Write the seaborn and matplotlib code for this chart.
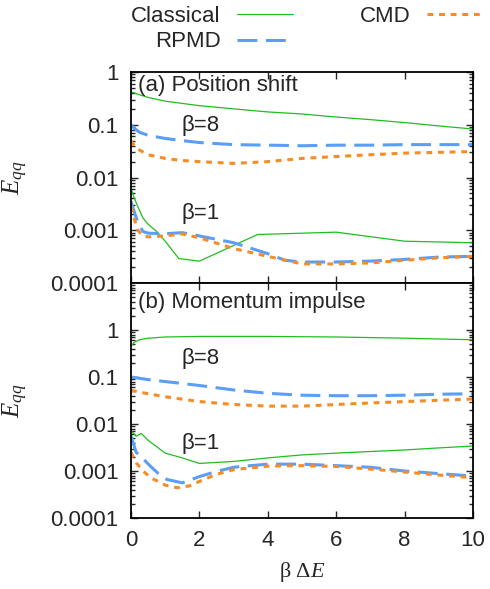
import numpy as np
import pandas as pd
import seaborn as sns
import matplotlib
matplotlib.use("Agg")
import matplotlib.pyplot as plt
from matplotlib.lines import Line2D
from matplotlib.ticker import LogLocator, NullFormatter

# ---- data ----
# (a) position shift, beta = 8
a8_cl_x = [0, 0.25, 0.5, 1, 2, 3, 4, 5, 6, 7, 8, 9, 10]
a8_cl_y = [0.42, 0.37, 0.33, 0.28, 0.23, 0.20, 0.175, 0.16, 0.14, 0.125, 0.11, 0.095, 0.083]
a8_rp_x = [0, 0.1, 0.25, 0.5, 1, 1.5, 2, 3, 4, 5, 6, 7, 8, 9, 10]
a8_rp_y = [0.1, 0.085, 0.072, 0.063, 0.055, 0.05, 0.046, 0.042, 0.041, 0.04, 0.041, 0.041, 0.042, 0.042, 0.042]
a8_cm_x = [0, 0.1, 0.25, 0.5, 1, 1.5, 2, 3, 4, 5, 6, 7, 8, 9, 10]
a8_cm_y = [0.05, 0.04, 0.033, 0.027, 0.023, 0.021, 0.02, 0.0185, 0.02, 0.023, 0.025, 0.027, 0.029, 0.030, 0.031]

# (a) position shift, beta = 1
a1_cl_x = [0, 0.1, 0.2, 0.35, 0.5, 0.75, 1.0, 1.4, 2.0, 3.7, 6.0, 8.0, 10.0]
a1_cl_y = [0.0062, 0.004, 0.0028, 0.0017, 0.0013, 0.00095, 0.00062, 0.00029, 0.00026, 0.00083, 0.00092, 0.00062, 0.00058]
a1_rp_x = [0, 0.1, 0.2, 0.35, 0.5, 1.0, 1.5, 2.0, 3.0, 4.0, 4.5, 5.0, 6.0, 7.0, 8.0, 9.0, 10.0]
a1_rp_y = [0.0035, 0.0022, 0.0014, 0.00095, 0.00088, 0.00086, 0.0009, 0.00078, 0.00058, 0.00036,
           0.00027, 0.00025, 0.00025, 0.00026, 0.00028, 0.00031, 0.00032]
a1_cm_x = [0, 0.1, 0.2, 0.35, 0.5, 1.0, 1.5, 2.0, 3.0, 4.0, 5.0, 6.0, 7.0, 8.0, 9.0, 10.0]
a1_cm_y = [0.0028, 0.0016, 0.001, 0.00078, 0.00075, 0.00078, 0.00085, 0.00072, 0.00045, 0.00032,
           0.00023, 0.00023, 0.00024, 0.00027, 0.0003, 0.00032]

# (b) momentum impulse, beta = 8
b8_cl_x = [0, 0.1, 0.25, 0.5, 1, 2, 4, 6, 8, 10]
b8_cl_y = [0.45, 0.55, 0.62, 0.67, 0.71, 0.73, 0.73, 0.71, 0.67, 0.62]
b8_rp_x = [0, 0.5, 1, 2, 3, 4, 5, 6, 7, 8, 9, 10]
b8_rp_y = [0.1, 0.088, 0.08, 0.066, 0.053, 0.045, 0.041, 0.040, 0.040, 0.041, 0.043, 0.044]
b8_cm_x = [0, 0.5, 1, 2, 3, 4, 5, 6, 7, 8, 9, 10]
b8_cm_y = [0.052, 0.044, 0.038, 0.03, 0.026, 0.024, 0.024, 0.026, 0.028, 0.030, 0.032, 0.034]

# (b) momentum impulse, beta = 1
b1_cl_x = [0, 0.15, 0.3, 0.5, 1.0, 1.5, 2.0, 3.0, 4.0, 5.0, 6.0, 7.0, 8.0, 9.0, 10.0]
b1_cl_y = [0.0072, 0.0055, 0.0063, 0.0045, 0.0024, 0.0019, 0.00145, 0.0016, 0.0019, 0.0022,
           0.0024, 0.0026, 0.0028, 0.0031, 0.0034]
b1_rp_x = [0, 0.15, 0.3, 0.55, 0.8, 1.05, 1.5, 2.0, 2.5, 3.0, 3.5, 4.0, 5.0, 6.0, 7.0, 8.0, 9.0, 10.0]
b1_rp_y = [0.0056, 0.0025, 0.002, 0.0013, 0.00088, 0.00066, 0.00056, 0.00076, 0.00098, 0.0012,
           0.0013, 0.0014, 0.0014, 0.0013, 0.0012, 0.001, 0.00088, 0.00078]
b1_cm_x = [0, 0.15, 0.35, 0.6, 0.8, 1.0, 1.35, 1.7, 2.0, 2.5, 3.0, 4.0, 5.0, 6.0, 7.0, 8.0, 9.0, 10.0]
b1_cm_y = [0.0025, 0.0015, 0.001, 0.0007, 0.0006, 0.0005, 0.00044, 0.00048, 0.0006, 0.00085,
           0.00107, 0.00127, 0.0013, 0.00125, 0.0011, 0.00095, 0.00082, 0.00072]

methods = ["Classical", "RPMD", "CMD"]
ytick_vals = [1e-4, 1e-3, 1e-2, 1e-1, 1]
ytick_labels = ["0.0001", "0.001", "0.01", "0.1", "1"]
xtick_vals = [0, 2, 4, 6, 8, 10]

# ---- styling ----
sns.set_style("ticks")
plt.rcParams["font.family"] = ["Liberation Sans", "DejaVu Sans"]
plt.rcParams["mathtext.fontset"] = "custom"
plt.rcParams["mathtext.rm"] = "Liberation Serif"
plt.rcParams["mathtext.it"] = "Liberation Serif:italic"
FS = 16

styles = {
    "Classical": dict(color="#1fbf1f", linewidth=0.9, linestyle="-"),
    "RPMD": dict(color="#5a9ef5", linewidth=2.2, linestyle=(0, (6.5, 2.8))),
    "CMD": dict(color="#f78b26", linewidth=2.2, linestyle=(0, (1.9, 1.9))),
}

fig = plt.figure(figsize=(4.9, 5.89), dpi=100)
left, right = 131 / 490, 473 / 490
ax_a = fig.add_axes([left, 1 - 283 / 589, right - left, (283 - 72) / 589])
ax_b = fig.add_axes([left, 1 - 518 / 589, right - left, (518 - 283) / 589])

panels = [
    (ax_a, [(a8_cl_x, a8_cl_y), (a8_rp_x, a8_rp_y), (a8_cm_x, a8_cm_y),
            (a1_cl_x, a1_cl_y), (a1_rp_x, a1_rp_y), (a1_cm_x, a1_cm_y)]),
    (ax_b, [(b8_cl_x, b8_cl_y), (b8_rp_x, b8_rp_y), (b8_cm_x, b8_cm_y),
            (b1_cl_x, b1_cl_y), (b1_rp_x, b1_rp_y), (b1_cm_x, b1_cm_y)]),
]

for ax, series in panels:
    for i, (xs, ys) in enumerate(series):
        m = methods[i % 3]
        df = pd.DataFrame({"x": xs, "y": ys})
        sns.lineplot(data=df, x="x", y="y", ax=ax, legend=False, **styles[m])
    ax.set_yscale("log")
    ax.set_xlim(0, 10)
    ax.set_xticks(xtick_vals)
    ax.set_yticks(ytick_vals, labels=ytick_labels)
    ax.yaxis.set_minor_locator(LogLocator(base=10, subs=np.arange(2, 10), numticks=30))
    ax.yaxis.set_minor_formatter(NullFormatter())
    ax.tick_params(which="both", direction="in", top=True, right=True, labelsize=FS, width=1.0)
    ax.tick_params(which="major", length=5, pad=9)
    ax.tick_params(which="minor", length=3)
    for s in ax.spines.values():
        s.set_linewidth(1.3)
        s.set_color("black")
    ax.set_ylabel("$E_{qq}$", fontsize=FS + 2)
    ax.yaxis.set_label_coords(-0.295, 0.5)

ax_a.set_ylim(1e-4, 1)
ax_b.set_ylim(1e-4, 10)
ax_a.set_xlabel("")
ax_a.tick_params(labelbottom=False)
ax_b.set_xlabel("β Δ$E$", fontsize=FS, family="Liberation Serif", labelpad=6)

# panel annotations
ax_a.text(0.02, 0.938, "(a) Position shift", transform=ax_a.transAxes, fontsize=FS, va="center")
ax_a.text(0.149, 0.745, "β=8", transform=ax_a.transAxes, fontsize=FS, va="center")
ax_a.text(0.149, 0.33, "β=1", transform=ax_a.transAxes, fontsize=FS, va="center")
ax_b.text(0.02, 0.919, "(b) Momentum impulse", transform=ax_b.transAxes, fontsize=FS, va="center")
ax_b.text(0.149, 0.68, "β=8", transform=ax_b.transAxes, fontsize=FS, va="center")
ax_b.text(0.149, 0.319, "β=1", transform=ax_b.transAxes, fontsize=FS, va="center")

# legend on top, gnuplot style (text then sample)
handles = [Line2D([], [], **styles[m]) for m in methods]
fig.legend(handles, methods, loc="upper left", bbox_to_anchor=(131 / 490, 1 - 6 / 589),
           ncol=2, frameon=False, markerfirst=False, fontsize=FS, handlelength=2.5,
           handletextpad=0.75, columnspacing=3.0, labelspacing=0.2, borderpad=0,
           borderaxespad=0)

fig.savefig("out.png", dpi=100)
